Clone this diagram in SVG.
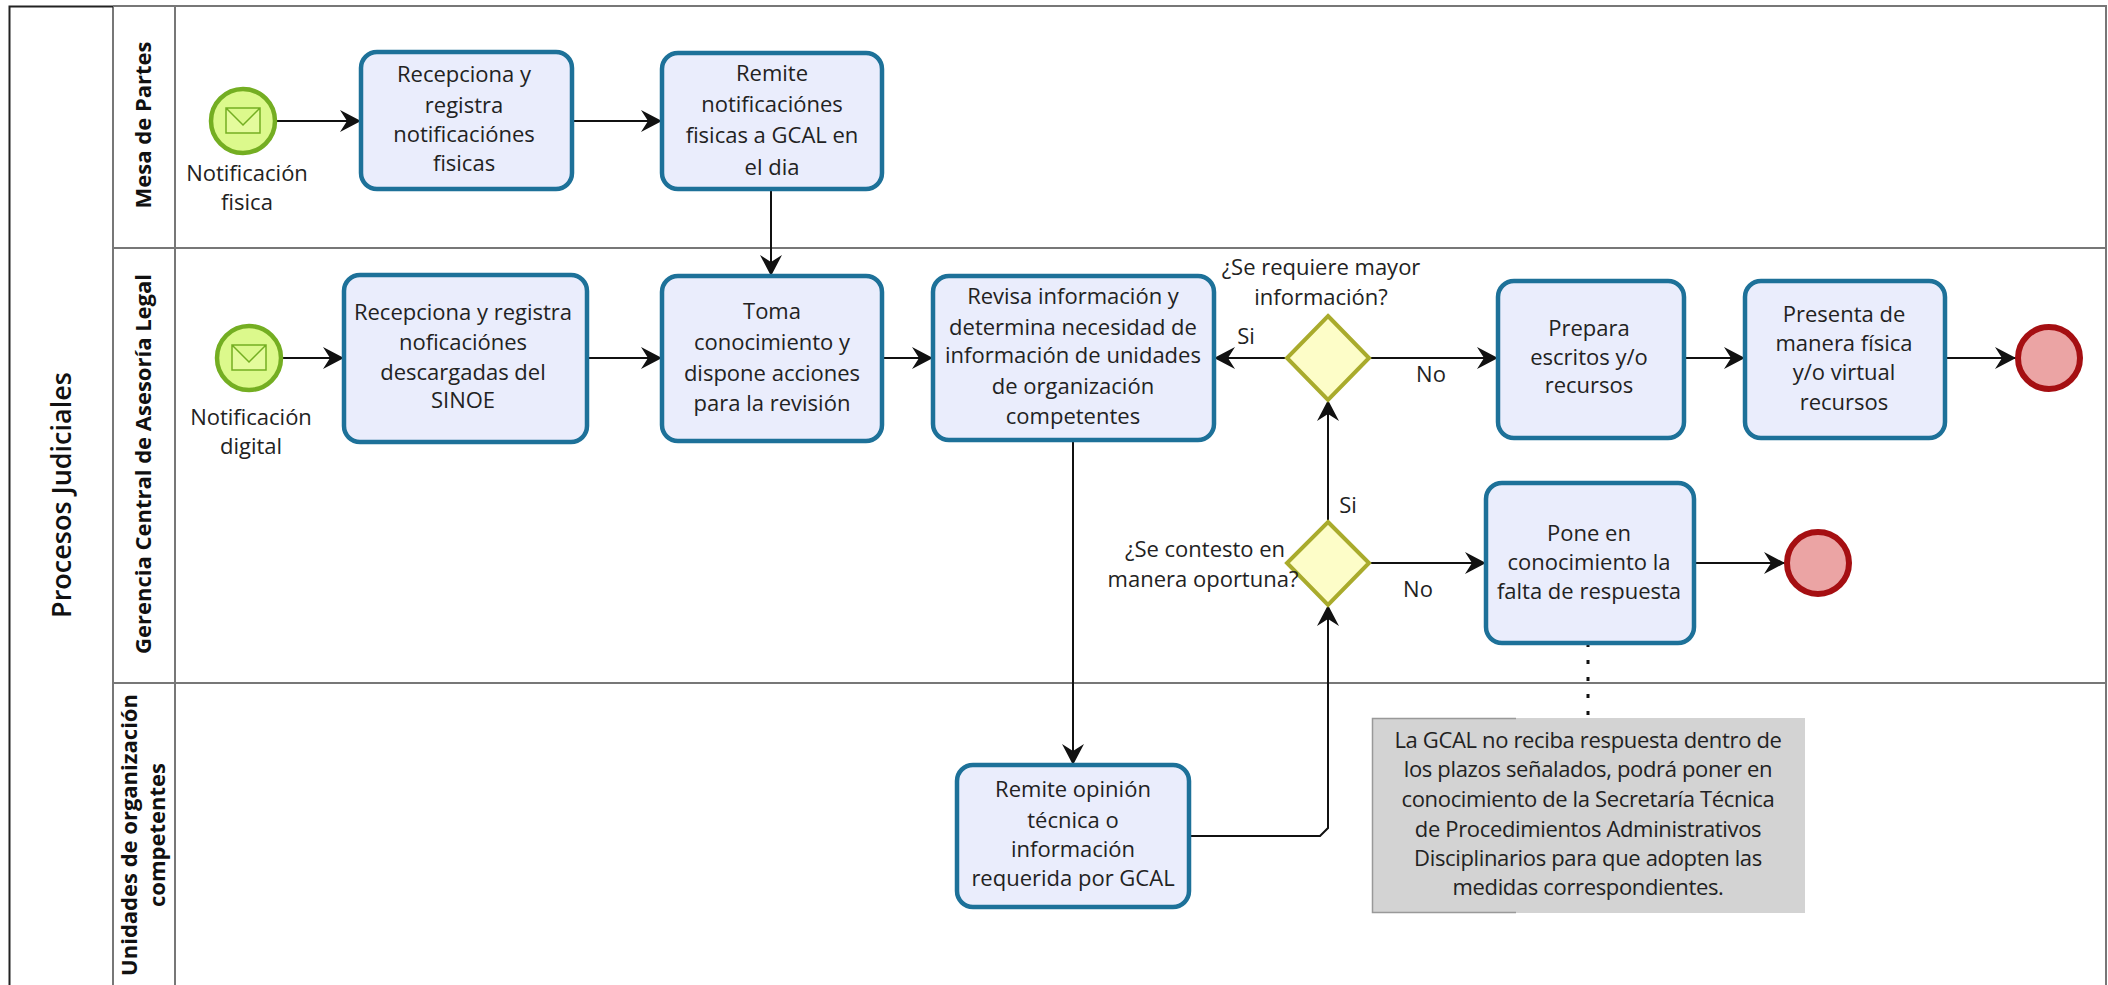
<svg xmlns="http://www.w3.org/2000/svg" width="2108" height="985" viewBox="0 0 2108 985">
<style>
text{font-family:"Open Sans","Noto Sans","Liberation Sans",sans-serif;fill:#222;font-size:22px;text-anchor:middle}
.hd{font-weight:700;font-size:22px;fill:#111}
.ttl{font-weight:600;font-size:27px;fill:#111}
.note{font-size:22px;letter-spacing:-.35px}
.task{fill:#eaedfc;stroke:#1d7199;stroke-width:4.5}
.ev{fill:#dcf98c;stroke:#74ae22;stroke-width:4.5}
.env{fill:#e4fb9c;stroke:#74ae22;stroke-width:1.5}
.end{fill:#eba4a4;stroke:#a50f12;stroke-width:6}
.gw{fill:#fdfdc8;stroke:#a9ab2c;stroke-width:4}
.lane{fill:none;stroke:#777;stroke-width:2}
.fl{fill:none;stroke:#111;stroke-width:2;marker-end:url(#a)}
</style>
<defs><marker id="a" markerUnits="userSpaceOnUse" markerWidth="24" markerHeight="24" refX="21" refY="11" orient="auto"><path d="M0 0L21 11L0 22L7 11Z" fill="#111"/></marker></defs>
<rect width="2108" height="985" fill="#fff"/>
<g id="pool">
<path class="lane" d="M113 6H2106V985M175 6V985M113 248H2106M113 683H2106M113 6V985"/>
<path d="M9.500 985V6.500H113" fill="none" stroke="#222" stroke-width="2"/>
<text class="ttl" transform="translate(71,495) rotate(-90)">Procesos Judiciales</text>
<text class="hd" transform="translate(151,125) rotate(-90)">Mesa de Partes</text>
<text class="hd" transform="translate(151,464) rotate(-90)">Gerencia Central de Asesoría Legal</text>
<text class="hd" transform="translate(137,835) rotate(-90)">Unidades de organización</text>
<text class="hd" transform="translate(165,835) rotate(-90)">competentes</text>
</g>
<g id="connectors">
<path class="fl" d="M275 121H361"/>
<path class="fl" d="M572 121H662"/>
<path class="fl" d="M771 189V276"/>
<path class="fl" d="M281 358H344"/>
<path class="fl" d="M587 358H662"/>
<path class="fl" d="M882 358H933"/>
<path class="fl" d="M1287 358H1214"/>
<path class="fl" d="M1369 358H1498"/>
<path class="fl" d="M1684 358H1745"/>
<path class="fl" d="M1945 358H2016"/>
<path class="fl" d="M1328 522V400"/>
<path class="fl" d="M1369 563H1486"/>
<path class="fl" d="M1694 563H1785"/>
<path class="fl" d="M1073 440V765"/>
<path class="fl" d="M1189 836H1320L1328 828V605"/>
<path d="M1588 643V716" fill="none" stroke="#111" stroke-width="3" stroke-dasharray="4 13"/>
</g>
<g id="start1"><circle class="ev" cx="243" cy="121" r="32"/><path class="env" d="M226 108H260V133H226ZM226 108L243 125L260 108"/><text x="247" y="181">Notificación</text><text x="247" y="210">fisica</text></g>
<g id="start2"><circle class="ev" cx="249" cy="358" r="32"/><path class="env" d="M232 345H266V370H232ZM232 345L249 362L266 345"/><text x="251" y="425">Notificación</text><text x="251" y="454">digital</text></g>
<g id="task1"><rect class="task" x="361" y="52" width="211" height="137" rx="16"/><text x="464" y="82">Recepciona y</text><text x="464" y="113">registra</text><text x="464" y="142">notificaciónes</text><text x="464" y="171">fisicas</text></g>
<g id="task2"><rect class="task" x="662" y="53" width="220" height="136" rx="16"/><text x="772" y="81">Remite</text><text x="772" y="112">notificaciónes</text><text x="772" y="143">fisicas a GCAL en</text><text x="772" y="175">el dia</text></g>
<g id="task3"><rect class="task" x="344" y="275" width="243" height="167" rx="16"/><text x="463" y="320">Recepciona y registra</text><text x="463" y="350">noficaciónes</text><text x="463" y="380">descargadas del</text><text x="463" y="408">SINOE</text></g>
<g id="task4"><rect class="task" x="662" y="276" width="220" height="165" rx="16"/><text x="772" y="319">Toma</text><text x="772" y="350">conocimiento y</text><text x="772" y="381">dispone acciones</text><text x="772" y="411">para la revisión</text></g>
<g id="task5"><rect class="task" x="933" y="276" width="281" height="164" rx="16"/><text x="1073" y="304">Revisa información y</text><text x="1073" y="335">determina necesidad de</text><text x="1073" y="363">información de unidades</text><text x="1073" y="394">de organización</text><text x="1073" y="424">competentes</text></g>
<g id="gateway1"><path class="gw" d="M1328 316L1369 358L1328 400L1287 358Z"/><text x="1321" y="275">¿Se requiere mayor</text><text x="1321" y="305">información?</text><text x="1246" y="344">Si</text><text x="1431" y="382">No</text></g>
<g id="gateway2"><path class="gw" d="M1328 522L1369 563L1328 605L1287 563Z"/><text x="1348" y="513">Si</text><text x="1205" y="557">¿Se contesto en</text><text x="1203" y="587">manera oportuna?</text><text x="1418" y="597">No</text></g>
<g id="task6"><rect class="task" x="1498" y="281" width="186" height="157" rx="16"/><text x="1589" y="336">Prepara</text><text x="1589" y="365">escritos y/o</text><text x="1589" y="393">recursos</text></g>
<g id="task7"><rect class="task" x="1745" y="281" width="200" height="157" rx="16"/><text x="1844" y="322">Presenta de</text><text x="1844" y="351">manera física</text><text x="1844" y="380">y/o virtual</text><text x="1844" y="410">recursos</text></g>
<g id="end1"><circle class="end" cx="2049" cy="358" r="31"/></g>
<g id="task8"><rect class="task" x="1486" y="483" width="208" height="160" rx="16"/><text x="1589" y="541">Pone en</text><text x="1589" y="570">conocimiento la</text><text x="1589" y="599">falta de respuesta</text></g>
<g id="end2"><circle class="end" cx="1818" cy="563" r="31"/></g>
<g id="task9"><rect class="task" x="957" y="765" width="232" height="142" rx="16"/><text x="1073" y="797">Remite opinión</text><text x="1073" y="828">técnica o</text><text x="1073" y="857">información</text><text x="1073" y="886">requerida por GCAL</text></g>
<g id="note"><rect x="1372" y="718" width="433" height="195" fill="#d3d3d3"/><path d="M1516 718.500H1372.500V912.500H1516" fill="none" stroke="#999" stroke-width="1.500"/><text class="note" x="1588" y="748">La GCAL no reciba respuesta dentro de</text><text class="note" x="1588" y="777">los plazos señalados, podrá poner en</text><text class="note" x="1588" y="807">conocimiento de la Secretaría Técnica</text><text class="note" x="1588" y="837">de Procedimientos Administrativos</text><text class="note" x="1588" y="866">Disciplinarios para que adopten las</text><text class="note" x="1588" y="895">medidas correspondientes.</text></g>
</svg>
